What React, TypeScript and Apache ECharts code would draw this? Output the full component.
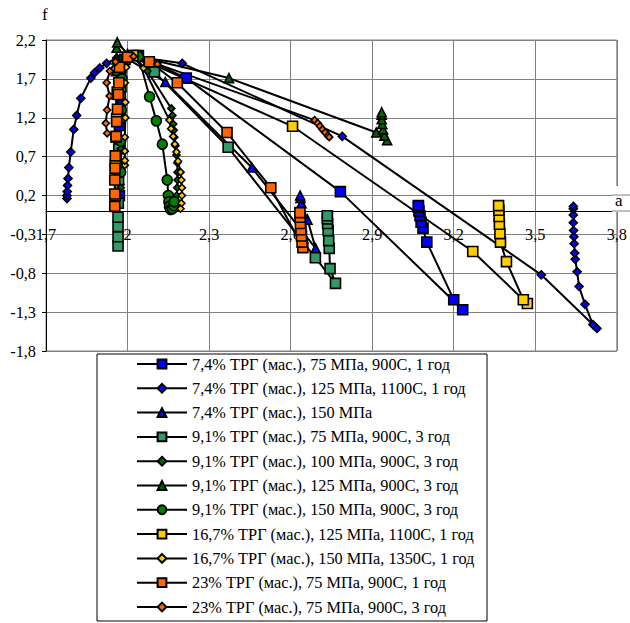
import React, { useEffect, useRef } from "react";
import * as echarts from "echarts";

// ---- axes ----
const X_MIN = 1.7;
const X_MAX = 3.8;
const X_STEP = 0.3;
const Y_MIN = -1.8;
const Y_MAX = 2.2;
const Y_STEP = 0.5;

// ---- series names ----
const seriesNames = [
  "7,4% ТРГ (мас.), 75 МПа, 900С, 1 год",
  "7,4% ТРГ (мас.), 125 МПа, 1100С, 1 год",
  "7,4% ТРГ (мас.), 150 МПа",
  "9,1% ТРГ (мас.), 75 МПа, 900С, 3 год",
  "9,1% ТРГ (мас.), 100 МПа, 900С, 3 год",
  "9,1% ТРГ (мас.), 125 МПа, 900С, 3 год",
  "9,1% ТРГ (мас.), 150 МПа, 900С, 3 год",
  "16,7% ТРГ (мас.), 125 МПа, 1100С, 1 год",
  "16,7% ТРГ (мас.), 150 МПа, 1350С, 1 год",
  "23% ТРГ (мас.), 75 МПа, 900С, 1 год",
  "23% ТРГ (мас.), 75 МПа, 900С, 3 год",
];

// ---- series values [a, f] ----
const s74_75: [number, number][] = [
  [1.97, 0.2], [1.97, 0.6], [1.97, 1.1], [1.975, 1.6], [1.99, 1.95], [2.04, 2.0],
  [2.216, 1.71], [2.783, 0.25], [3.233, -1.27], [3.2, -1.14], [3.101, -0.4],
  [3.087, -0.22], [3.08, -0.145], [3.076, -0.06], [3.072, 0.0], [3.07, 0.05], [3.07, 0.07],
];
const s74_125: [number, number][] = [
  [1.777, 0.16], [1.777, 0.2], [1.778, 0.25], [1.779, 0.33], [1.781, 0.42], [1.784, 0.56],
  [1.791, 0.76], [1.802, 1.05], [1.813, 1.23], [1.828, 1.45], [1.865, 1.71], [1.879, 1.78],
  [1.898, 1.84], [1.923, 1.9], [1.96, 1.97], [2.0, 2.0], [2.201, 1.9], [2.79, 0.96],
  [3.522, -0.82], [3.727, -1.51], [3.712, -1.46], [3.683, -1.2], [3.661, -0.97],
  [3.654, -0.78], [3.647, -0.62], [3.645, -0.54], [3.643, -0.42], [3.642, -0.33],
  [3.641, -0.25], [3.64, -0.15], [3.64, -0.05], [3.64, 0.03], [3.64, 0.06],
];
const s74_150: [number, number][] = [
  [1.97, 0.4], [1.97, 0.9], [1.972, 1.4], [1.975, 1.8], [1.99, 1.98], [2.139, 1.66],
  [2.457, 0.56], [2.692, -0.48], [2.662, -0.11], [2.64, 0.1], [2.636, 0.17], [2.635, 0.2],
];
const s91_75: [number, number][] = [
  [1.965, -0.45], [1.965, -0.33], [1.965, -0.2], [1.965, -0.08], [1.966, 0.1], [1.967, 0.4],
  [1.968, 0.8], [1.97, 1.2], [1.975, 1.6], [1.99, 1.95], [2.03, 2.0], [2.099, 1.79],
  [2.37, 0.82], [2.691, -0.6], [2.765, -0.93], [2.745, -0.74], [2.742, -0.48],
  [2.74, -0.38], [2.738, -0.25], [2.736, -0.16], [2.735, -0.1], [2.735, -0.06],
];
const s91_100: [number, number][] = [
  [1.975, 0.3], [1.975, 0.8], [1.977, 1.3], [1.98, 1.7], [1.99, 1.95], [2.02, 2.0],
  [2.073, 1.8], [2.161, 1.32], [2.165, 1.23], [2.168, 1.12], [2.17, 1.04], [2.172, 0.95],
  [2.176, 0.84], [2.18, 0.72], [2.183, 0.62], [2.184, 0.5], [2.184, 0.4], [2.183, 0.3],
  [2.181, 0.2], [2.178, 0.1], [2.176, 0.03],
];
const s91_125: [number, number][] = [
  [1.958, 1.2], [1.958, 1.5], [1.958, 1.8], [1.96, 1.95], [1.96, 2.1], [1.962, 2.17],
  [2.0, 2.02], [2.373, 1.71], [2.915, 1.01], [2.955, 0.91], [2.945, 0.97], [2.94, 1.05],
  [2.937, 1.12], [2.935, 1.18], [2.935, 1.24], [2.935, 1.27],
];
const s91_150: [number, number][] = [
  [1.975, 0.5], [1.975, 0.9], [1.977, 1.3], [1.98, 1.7], [1.995, 1.97], [2.04, 1.99],
  [2.081, 1.47], [2.106, 1.16], [2.128, 0.86], [2.146, 0.4], [2.15, 0.2], [2.152, 0.12],
  [2.154, 0.06], [2.158, 0.02], [2.165, 0.03], [2.17, 0.07], [2.172, 0.12],
];
const s167_125: [number, number][] = [
  [1.955, 0.2], [1.955, 0.6], [1.958, 0.95], [1.96, 1.19], [1.962, 1.53], [1.975, 1.85],
  [2.02, 2.0], [2.607, 1.09], [3.27, -0.52], [3.471, -1.19], [3.456, -1.14], [3.394, -0.65],
  [3.372, -0.4], [3.37, -0.29], [3.368, -0.17], [3.367, -0.07], [3.366, 0.01], [3.365, 0.07],
];
const s167_150: [number, number][] = [
  [1.99, 0.59], [1.99, 0.65], [1.99, 0.77], [1.99, 0.95], [1.992, 1.2], [1.992, 1.4],
  [1.99, 1.65], [1.995, 1.85], [2.02, 1.98], [2.059, 1.84], [2.154, 1.17], [2.16, 1.06],
  [2.168, 0.96], [2.174, 0.86], [2.18, 0.76], [2.186, 0.64], [2.195, 0.5], [2.198, 0.4],
  [2.2, 0.3], [2.2, 0.2], [2.198, 0.1], [2.195, 0.03],
];
const s23_1: [number, number][] = [
  [1.953, 0.06], [1.953, 0.22], [1.953, 0.4], [1.954, 0.55], [1.955, 0.71], [1.958, 0.96],
  [1.96, 1.15], [1.963, 1.31], [1.966, 1.5], [1.968, 1.65], [1.97, 1.85], [2.0, 1.98],
  [2.08, 1.92], [2.183, 1.65], [2.366, 1.01], [2.527, 0.3], [2.645, -0.47], [2.642, -0.4],
  [2.64, -0.32], [2.638, -0.24], [2.636, -0.16], [2.635, -0.08], [2.634, -0.02],
];
const s23_3: [number, number][] = [
  [1.925, 1.0], [1.92, 1.13], [1.925, 1.3], [1.934, 1.48], [1.923, 1.65], [1.935, 1.8],
  [1.956, 1.92], [2.022, 1.99], [2.11, 1.89], [2.688, 1.17], [2.7, 1.13], [2.708, 1.09],
  [2.717, 1.05], [2.727, 1.01], [2.737, 0.97], [2.742, 0.95],
];

const seriesData = [
  s74_75, s74_125, s74_150, s91_75, s91_100, s91_125, s91_150,
  s167_125, s167_150, s23_1, s23_3,
];

// ---- styles (not data) ----
const seriesStyles = [
  { color: "#0000FF", symbol: "rect", size: 10 },
  { color: "#0000FF", symbol: "diamond", size: 8 },
  { color: "#0000FF", symbol: "triangle", size: 9 },
  { color: "#339966", symbol: "rect", size: 10 },
  { color: "#006600", symbol: "diamond", size: 7 },
  { color: "#006600", symbol: "triangle", size: 9 },
  { color: "#008000", symbol: "circle", size: 10 },
  { color: "#FFCC00", symbol: "rect", size: 10 },
  { color: "#FFCC00", symbol: "diamond", size: 7 },
  { color: "#FF6600", symbol: "rect", size: 10 },
  { color: "#FF6600", symbol: "diamond", size: 7 },
];

const FONT = "Liberation Serif, Times New Roman, DejaVu Serif, serif";
const FS = 16.3;

const fmt = (v: number) => {
  const r = Math.round(v * 10) / 10;
  return String(r).replace(".", ",");
};

export default function App() {
  const ref = useRef<HTMLDivElement>(null);

  useEffect(() => {
    document.body.style.margin = "0";
    if (!ref.current) return;
    const chart = echarts.init(ref.current, undefined, { renderer: "svg" });

    const gridTop = 40;
    const gridHeight = 311;
    const gridLeft = 46;
    const gridWidth = 574;
    const zeroOffset = -gridHeight * ((0 - Y_MIN) / (Y_MAX - Y_MIN));

    const series = seriesData.map((d, i) => ({
      type: "line",
      name: seriesNames[i],
      data: d.map(([x, y]) => [x - X_MIN, y - Y_MIN]),
      symbol: seriesStyles[i].symbol,
      symbolSize: seriesStyles[i].size,
      showSymbol: true,
      showAllSymbol: true,
      lineStyle: { color: "#000", width: 2 },
      itemStyle: { color: seriesStyles[i].color, borderColor: "#000", borderWidth: 1.6 },
      emphasis: { disabled: true },
      z: 3,
    }));

    chart.setOption({
      animation: false,
      backgroundColor: "#fff",
      textStyle: { fontFamily: FONT },
      grid: {
        left: gridLeft,
        top: gridTop,
        width: gridWidth,
        height: gridHeight,
        show: true,
        borderColor: "#808080",
        borderWidth: 1,
        backgroundColor: "transparent",
      },
      xAxis: {
        type: "value",
        min: 0,
        max: X_MAX - X_MIN,
        interval: X_STEP,
        position: "bottom",
        offset: zeroOffset,
        axisLine: { show: true, onZero: false, lineStyle: { color: "#000", width: 1 } },
        axisTick: { show: false },
        splitLine: { show: true, lineStyle: { color: "#808080", width: 1 } },
        axisLabel: {
          interval: 0,
          margin: 15,
          color: "#000",
          fontFamily: FONT,
          fontSize: FS,
          showMinLabel: true,
          showMaxLabel: true,
          formatter: (v: number) => fmt(v + X_MIN),
        },
      },
      yAxis: {
        type: "value",
        min: 0,
        max: Y_MAX - Y_MIN,
        interval: Y_STEP,
        axisLine: { show: true, lineStyle: { color: "#000", width: 1 } },
        axisTick: { show: true, length: 4, lineStyle: { color: "#000" } },
        splitLine: { show: true, lineStyle: { color: "#808080", width: 1 } },
        axisLabel: {
          margin: 10,
          color: "#000",
          fontFamily: FONT,
          fontSize: FS,
          formatter: (v: number) => fmt(v + Y_MIN),
        },
      },
      legend: {
        orient: "vertical",
        left: 136,
        top: 356,
        itemWidth: 50,
        itemHeight: 11,
        itemGap: 8.3,
        padding: 0,
        selectedMode: false,
        textStyle: { fontFamily: FONT, fontSize: FS, color: "#000" },
        data: seriesNames,
      },
      graphic: [
        {
          type: "rect",
          shape: { x: 97, y: 354, width: 390, height: 267 },
          style: { fill: "#fff", stroke: "#000", lineWidth: 1 },
          z: -1,
          silent: true,
        },
        {
          type: "rect",
          shape: { x: 612, y: 186, width: 18, height: 26 },
          style: { fill: "#fff", stroke: null },
          z: 10,
          silent: true,
        },
        {
          type: "line",
          shape: { x1: 612, y1: 195, x2: 630, y2: 195 },
          style: { stroke: "#808080", lineWidth: 1 },
          z: 11,
          silent: true,
        },
        {
          type: "line",
          shape: { x1: 612, y1: 211, x2: 630, y2: 211 },
          style: { stroke: "#808080", lineWidth: 1 },
          z: 11,
          silent: true,
        },
        {
          type: "text",
          x: 615,
          y: 192,
          style: { text: "a", fontFamily: FONT, fontSize: 17, fill: "#000" },
          z: 12,
          silent: true,
        },
        {
          type: "text",
          x: 42,
          y: 6,
          style: { text: "f", fontFamily: FONT, fontSize: 17, fill: "#000" },
          z: 12,
          silent: true,
        },
      ],
      series,
    });

    return () => chart.dispose();
  }, []);

  return <div ref={ref} style={{ width: 630, height: 623 }} />;
}
